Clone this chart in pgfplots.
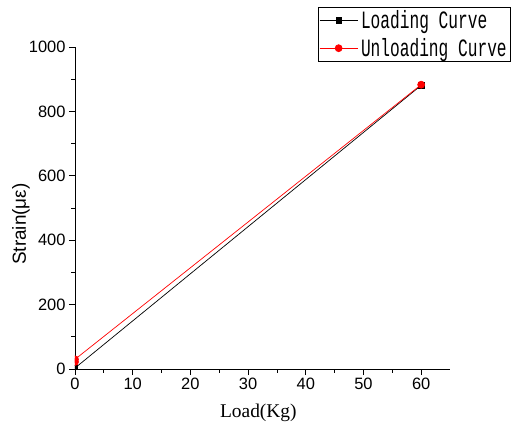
\documentclass[border=0pt]{standalone}
\usepackage{fontspec}
\setmainfont{Liberation Sans}
\newfontfamily\timesf{Liberation Serif}
\newfontfamily\legf[FakeStretch=0.65]{Liberation Mono}
\usepackage{pgfplots}
\pgfplotsset{compat=1.18}
\begin{document}
\begin{tikzpicture}
\path[use as bounding box] (-75bp,-58bp) rectangle (437bp,369bp);
\begin{axis}[
 scale only axis, width=375bp, height=322bp,
 xmin=0, xmax=65, ymin=0, ymax=1000,
 axis x line=bottom, axis y line=left,
 axis line style={-, line width=0.8bp},
 xtick={0,10,...,60}, ytick={0,200,...,1000},
 minor x tick num=1, minor y tick num=1,
 tick align=outside, major tick length=6bp, minor tick length=3.5bp,
 tick style={black, line width=0.8bp},
 ticklabel style={font=\fontsize{16.5}{16}\selectfont},
 /pgf/number format/assume math mode=true,
 /pgf/number format/1000 sep={},
 xlabel={Load(Kg)},
 xlabel style={font=\timesf\fontsize{19.5}{20}\selectfont, at={(axis description cs:0.489,-0.137)}, anchor=center},
 ylabel={Strain(με)},
 ylabel style={font=\fontsize{19}{20}\selectfont, at={(axis description cs:-0.144,0.45)}, anchor=center, rotate=0},
 clip marker paths=true,
 legend style={at={(axis description cs:0.648,1.124)}, anchor=north west, draw=black, line width=0.6bp,
   font=\legf\fontsize{25}{25}\selectfont, inner sep=1bp, row sep=3bp,
   nodes={inner xsep=3bp, inner ysep=2.5bp}},
 legend cell align=left,
 legend image code/.code={\draw[mark repeat=2,mark phase=2,#1] plot coordinates {(0bp,0bp) (19bp,0bp) (38bp,0bp)};},
]
\addplot[black, line width=0.7bp, mark=square*, mark size=2.8bp] coordinates {(0,3) (60,881)};
\addlegendentry{Loading Curve}
\addplot[red, line width=0.7bp, mark=*, mark size=3.5bp] coordinates {(60,883) (0,30) (0,22)};
\addlegendentry{Unloading Curve}
\end{axis}
\end{tikzpicture}
\end{document}
